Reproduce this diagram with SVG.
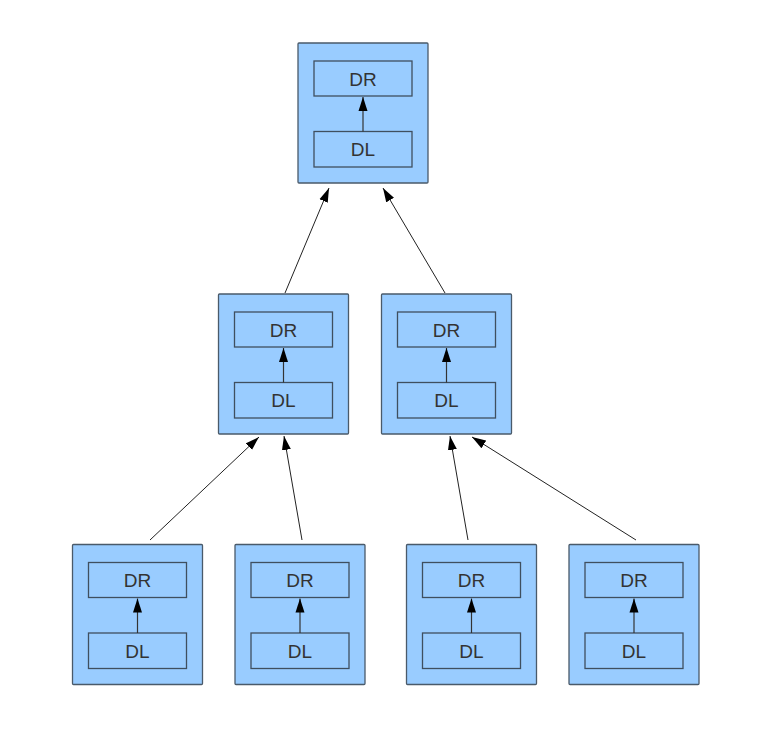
<svg xmlns="http://www.w3.org/2000/svg" width="782" height="736" viewBox="0 0 782 736">
<style>
.outer{fill:#99ccff;stroke:#4a5a6a;stroke-width:1.3}
.inner{fill:#99ccff;stroke:#3f4f5f;stroke-width:1.3}
.lbl{font-family:"Liberation Sans",Arial,sans-serif;font-size:19px;fill:#333;text-anchor:middle;dominant-baseline:central}
.edge{stroke:#222;stroke-width:1;fill:none;marker-end:url(#ah)}
.iedge{stroke:#333;stroke-width:1.2;fill:none;marker-end:url(#ah)}
</style>
<defs>
<marker id="ah" markerUnits="userSpaceOnUse" markerWidth="14" markerHeight="10" viewBox="0 0 14 10" refX="14" refY="5" orient="auto">
<path d="M0,0.5 L14,5 L0,9.5 Z" fill="#000"/>
</marker>
<g id="node">
<rect class="outer" x="0" y="0" width="130" height="140" rx="1"/>
<rect class="inner" x="16" y="18" width="98" height="35"/>
<rect class="inner" x="16" y="88.5" width="98" height="35.5"/>
<text class="lbl" x="65" y="36">DR</text>
<text class="lbl" x="65" y="106.5">DL</text>
<line class="iedge" x1="65" y1="88.5" x2="65" y2="54"/>
</g>
</defs>
<g id="n-top"><use href="#node" x="298" y="43"/></g>
<g id="n-mid-left"><use href="#node" x="218.5" y="294"/></g>
<g id="n-mid-right"><use href="#node" x="381.5" y="294"/></g>
<g id="n-bot-1"><use href="#node" x="72.5" y="544.5"/></g>
<g id="n-bot-2"><use href="#node" x="235" y="544.5"/></g>
<g id="n-bot-3"><use href="#node" x="406.5" y="544.5"/></g>
<g id="n-bot-4"><use href="#node" x="569" y="544.5"/></g>
<g id="connectors">
<line class="edge" x1="285" y1="293" x2="329" y2="188"/>
<line class="edge" x1="445" y1="293" x2="383" y2="188"/>
<line class="edge" x1="150" y1="540" x2="259" y2="437"/>
<line class="edge" x1="302" y1="540" x2="284" y2="436"/>
<line class="edge" x1="468" y1="540" x2="450" y2="436"/>
<line class="edge" x1="636" y1="540" x2="472" y2="437"/>
</g>
</svg>
